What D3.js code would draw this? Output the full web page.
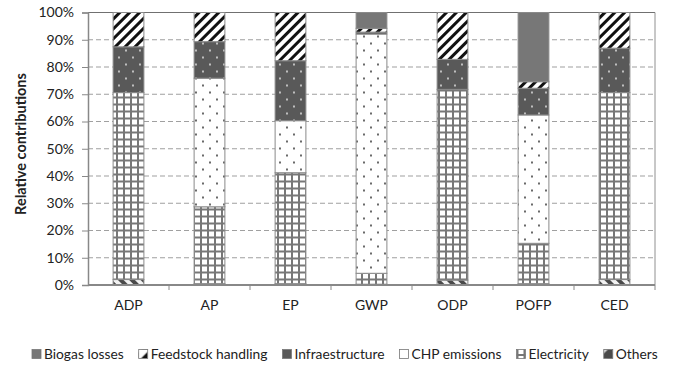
<!DOCTYPE html>
<html>
<head>
<meta charset="utf-8">
<script src="https://cdn.jsdelivr.net/npm/d3@7"></script>
<style>
  html, body { margin: 0; padding: 0; background: #fff; }
  svg { display: block; font-family: Lato, "Open Sans", sans-serif; }
</style>
</head>
<body>
<svg id="chart" width="675" height="367"></svg>
<script>
// Impact categories along the x axis
const categories = ["ADP", "AP", "EP", "GWP", "ODP", "POFP", "CED"];

// Contribution of each process (%), stacked bottom to top
const others       = [2.0, 0.5, 0.5, 0.3, 1.8, 0.5, 2.0];
const electricity  = [68.6, 28.2, 40.7, 4.0, 70.0, 14.8, 68.6];
const chpEmissions = [0.0, 47.2, 19.1, 87.8, 0.0, 47.1, 0.0];
const infra        = [16.8, 13.4, 22.0, 0.7, 11.0, 9.8, 16.3];
const feedstock    = [12.6, 10.7, 17.7, 1.4, 17.2, 2.4, 13.1];
const biogasLosses = [0.0, 0.0, 0.0, 5.8, 0.0, 25.4, 0.0];

const yTicks = [0, 10, 20, 30, 40, 50, 60, 70, 80, 90, 100];

// Legend order, left to right
const legendOrder = ["Biogas losses", "Feedstock handling", "Infraestructure", "CHP emissions", "Electricity", "Others"];

const seriesDefs = [
  { key: "Others", values: others, fill: "url(#pOthers)" },
  { key: "Electricity", values: electricity, fill: "url(#pGrid)" },
  { key: "CHP emissions", values: chpEmissions, fill: "url(#pDots)" },
  { key: "Infraestructure", values: infra, fill: "url(#pInfra)" },
  { key: "Feedstock handling", values: feedstock, fill: "url(#pStripes)" },
  { key: "Biogas losses", values: biogasLosses, fill: "#777777" }
];

const rows = categories.map((c, i) => {
  const r = { cat: c };
  seriesDefs.forEach(s => { r[s.key] = s.values[i]; });
  return r;
});

const svg = d3.select("#chart");
const margin = { left: 88, top: 12.5 };
const plotW = 655 - margin.left;
const plotH = 285 - margin.top;

// Fill patterns
const defs = svg.append("defs");

const pGrid = defs.append("pattern").attr("id", "pGrid")
  .attr("patternUnits", "userSpaceOnUse").attr("width", 7).attr("height", 7);
pGrid.append("rect").attr("width", 7).attr("height", 7).attr("fill", "#fff");
pGrid.append("rect").attr("x", 0).attr("y", 0).attr("width", 2).attr("height", 7).attr("fill", "#777");
pGrid.append("rect").attr("x", 0).attr("y", 0).attr("width", 7).attr("height", 2).attr("fill", "#777");

const pDots = defs.append("pattern").attr("id", "pDots")
  .attr("patternUnits", "userSpaceOnUse").attr("width", 14).attr("height", 14);
pDots.append("rect").attr("width", 14).attr("height", 14).attr("fill", "#fff");
pDots.append("circle").attr("cx", 3).attr("cy", 3).attr("r", 0.9).attr("fill", "#222");
pDots.append("circle").attr("cx", 10).attr("cy", 10).attr("r", 0.9).attr("fill", "#222");

const pInfra = defs.append("pattern").attr("id", "pInfra")
  .attr("patternUnits", "userSpaceOnUse").attr("width", 14).attr("height", 14);
pInfra.append("rect").attr("width", 14).attr("height", 14).attr("fill", "#595959");
pInfra.append("circle").attr("cx", 3).attr("cy", 3).attr("r", 0.9).attr("fill", "#eee");
pInfra.append("circle").attr("cx", 10).attr("cy", 10).attr("r", 0.9).attr("fill", "#eee");

const pStripes = defs.append("pattern").attr("id", "pStripes")
  .attr("patternUnits", "userSpaceOnUse").attr("width", 7).attr("height", 7)
  .attr("patternTransform", "rotate(45)");
pStripes.append("rect").attr("width", 7).attr("height", 7).attr("fill", "#fff");
pStripes.append("rect").attr("x", 0).attr("y", 0).attr("width", 3).attr("height", 7).attr("fill", "#111");

const pOthers = defs.append("pattern").attr("id", "pOthers")
  .attr("patternUnits", "userSpaceOnUse").attr("width", 8).attr("height", 8)
  .attr("patternTransform", "rotate(-45)");
pOthers.append("rect").attr("width", 8).attr("height", 8).attr("fill", "#f2f2f2");
pOthers.append("rect").attr("x", 0).attr("y", 0).attr("width", 4).attr("height", 8).attr("fill", "#4a4a4a");

// Legend-only swatch for feedstock handling: white square with a dark corner
const pFeedIcon = defs.append("pattern").attr("id", "pFeedIcon")
  .attr("patternUnits", "objectBoundingBox").attr("patternContentUnits", "objectBoundingBox")
  .attr("width", 1).attr("height", 1);
pFeedIcon.append("rect").attr("width", 1).attr("height", 1).attr("fill", "#fff");
pFeedIcon.append("path").attr("d", "M1,0.25 L1,1 L0.25,1 Z").attr("fill", "#111");

const pOthersIcon = defs.append("pattern").attr("id", "pOthersIcon")
  .attr("patternUnits", "objectBoundingBox").attr("patternContentUnits", "objectBoundingBox")
  .attr("width", 1).attr("height", 1);
pOthersIcon.append("rect").attr("width", 1).attr("height", 1).attr("fill", "#4a4a4a");
pOthersIcon.append("path").attr("d", "M0,0 L0.45,0 L0,0.45 Z").attr("fill", "#ddd");

const g = svg.append("g").attr("transform", `translate(${margin.left},${margin.top})`);

const x = d3.scaleBand().domain(categories).range([0, plotW]).paddingInner(0.62).paddingOuter(0.31);
const xOuter = d3.scaleBand().domain(categories).range([0, plotW]);
const y = d3.scaleLinear().domain([0, 100]).range([plotH, 0]);

// Dashed gridlines
g.append("g").selectAll("line").data(yTicks.filter(t => t > 0 && t < 100)).join("line")
  .attr("x1", 0).attr("x2", plotW)
  .attr("y1", d => y(d)).attr("y2", d => y(d))
  .attr("stroke", "#a0a0a0").attr("stroke-width", 1.2).attr("stroke-dasharray", "5,3");

// Plot frame (top and right)
g.append("line").attr("x1", 0).attr("x2", plotW).attr("y1", 0).attr("y2", 0)
  .attr("stroke", "#707070").attr("stroke-width", 1);
g.append("line").attr("x1", plotW).attr("x2", plotW).attr("y1", 0).attr("y2", plotH)
  .attr("stroke", "#909090").attr("stroke-width", 1);

// Stacked bars
const stack = d3.stack().keys(seriesDefs.map(s => s.key));
const layers = stack(rows);

g.append("g").selectAll("g").data(layers).join("g")
  .attr("fill", (d, i) => seriesDefs[i].fill)
  .selectAll("rect").data(d => d.filter(p => p[1] - p[0] > 0)).join("rect")
  .attr("x", d => x(d.data.cat))
  .attr("width", x.bandwidth())
  .attr("y", d => y(d[1]))
  .attr("height", d => y(d[0]) - y(d[1]))
  .attr("stroke", "#8a8a8a").attr("stroke-width", 1);

// Y axis
const yAxis = d3.axisLeft(y).tickValues(yTicks).tickFormat(d => d + "%").tickSize(6).tickPadding(8);
const yG = g.append("g").call(yAxis);
yG.select(".domain").attr("stroke", "#888").attr("stroke-width", 1.5);
yG.selectAll(".tick line").attr("stroke", "#888");
yG.selectAll("text").attr("font-size", 14).attr("fill", "#222").attr("font-family", "Lato, sans-serif");

// X axis with ticks at category boundaries
const xG = g.append("g").attr("transform", `translate(0,${plotH})`);
xG.append("line").attr("x1", 0).attr("x2", plotW).attr("y1", 0).attr("y2", 0)
  .attr("stroke", "#888").attr("stroke-width", 2);
xG.selectAll(".bt").data(categories).join("line").attr("class", "bt")
  .attr("x1", d => xOuter(d) + xOuter.bandwidth()).attr("x2", d => xOuter(d) + xOuter.bandwidth())
  .attr("y1", 0).attr("y2", 5).attr("stroke", "#888");
xG.selectAll(".lbl").data(categories).join("text").attr("class", "lbl")
  .attr("x", d => xOuter(d) + xOuter.bandwidth() / 2)
  .attr("y", 25).attr("text-anchor", "middle")
  .attr("font-size", 14).attr("fill", "#222").text(d => d);

// Y axis title
svg.append("text")
  .attr("transform", "translate(26,144) rotate(-90)")
  .attr("text-anchor", "middle").attr("font-size", 14.5).attr("font-weight", "bold")
  .attr("fill", "#222").text("Relative contributions");

// Legend
const iconFill = {
  "Biogas losses": "#777777",
  "Feedstock handling": "url(#pFeedIcon)",
  "Infraestructure": "#595959",
  "CHP emissions": "#fff",
  "Electricity": "url(#pGrid)",
  "Others": "url(#pOthersIcon)"
};
const leg = svg.append("g").attr("transform", "translate(0,354)");
let cx = 32;
legendOrder.forEach(k => {
  const item = leg.append("g").attr("transform", `translate(${cx},0)`);
  item.append("rect").attr("x", 0).attr("y", -4.5).attr("width", 9).attr("height", 9)
    .attr("fill", iconFill[k]).attr("stroke", "#777").attr("stroke-width", 0.8);
  const t = item.append("text").attr("x", 12).attr("y", 4.8)
    .attr("font-size", 13.8).attr("fill", "#222").text(k);
  const w = t.node().getComputedTextLength();
  cx += 12 + w + 15;
});
</script>
</body>
</html>
